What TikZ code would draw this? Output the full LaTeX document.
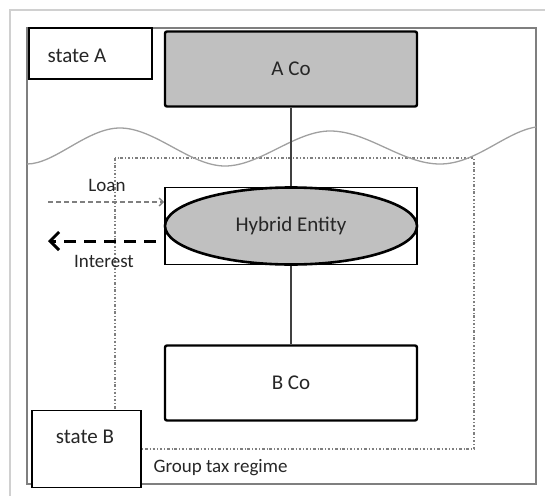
\documentclass[tikz,border=0pt]{standalone}
\usepackage{fontspec}
\setmainfont{Carlito}
\usetikzlibrary{arrows.meta,shapes.geometric}
\definecolor{boxgray}{HTML}{C0C0C0}
\definecolor{framegray}{HTML}{7F7F7F}
\definecolor{lightframe}{HTML}{D0D0D0}
\definecolor{wavegray}{HTML}{A0A0A0}
\definecolor{txt}{HTML}{262626}
\tikzset{
  bigtxt/.style={font=\fontsize{21}{25}\selectfont, text=txt},
  smalltxt/.style={font=\fontsize{19}{23}\selectfont, text=txt},
  cobox/.style={draw=black, line width=2.4pt, rounded corners=2pt, minimum width=252pt, minimum height=75pt, inner sep=0pt, bigtxt},
  statebox/.style={draw=black, line width=1.6pt, fill=white, inner sep=0pt},
}
\begin{document}
\begin{tikzpicture}[x=1pt,y=-1pt]
\useasboundingbox (0,0) rectangle (545,495);
% outer light frame
\draw[lightframe, line width=2.5pt] (10,520) -- (10,10) -- (570,10);
% inner frame
\draw[framegray, line width=2pt] (27,28) rectangle (536,484);
% group tax regime dotted rectangle
\draw[framegray, line width=1.3pt, dash pattern=on 2.5pt off 2pt on 0.8pt off 2pt] (115,158) rectangle (474,449);
% wave
\draw[wavegray, line width=1.3pt] (27,164) .. controls (55,164) and (87,128) .. (120,128)
  .. controls (155,128) and (190,166) .. (225,166)
  .. controls (260,166) and (295,131) .. (330,131)
  .. controls (368,131) and (402,164) .. (440,164)
  .. controls (476,164) and (505,132) .. (536,127);
% nodes
\node[cobox, fill=boxgray] (aco) at (291,69) {A Co};
\node[draw=black, line width=1.8pt, fill=white, minimum width=252pt, minimum height=77pt, inner sep=0pt] (hr) at (291,226) {};
\node[cobox, fill=white] (bco) at (291,383) {B Co};
% connector
\draw[black!75, line width=1.3pt] (aco.south) -- (bco.north);
\node[ellipse, draw=black, line width=2.6pt, fill=boxgray, minimum width=252pt, minimum height=77pt, inner sep=0pt, bigtxt] (hyb) at (291,226) {Hybrid Entity};
% state boxes
\node[statebox, minimum width=123pt, minimum height=51pt] (sa) at (90.5,53.5) {};
\node[bigtxt, anchor=west] (sat) at (44,56) {state A};
\node[statebox, minimum width=109pt, minimum height=77pt] (sb) at (86.5,449) {};
\node[bigtxt] (sbt) at (85,437) {state B};
% flows
\coordinate (loanstart) at (48,202);
\coordinate (intend) at (48,241);
\draw[framegray, line width=1.4pt, dash pattern=on 5pt off 3pt, -{Straight Barb[length=4pt,width=8pt]}] (loanstart) -- (hr.west |- loanstart);
\draw[black, line width=3pt, dash pattern=on 12pt off 8pt, shorten <=8pt, -{Straight Barb[length=9pt,width=18pt,line width=3pt]}] (hr.west |- intend) -- (intend);
\node[smalltxt] (loan) at (107,185) {Loan};
\node[smalltxt] (int) at (104,261) {Interest};
\node[smalltxt, anchor=west] (gtr) at (150,468) {Group tax regime};
\end{tikzpicture}
\end{document}
